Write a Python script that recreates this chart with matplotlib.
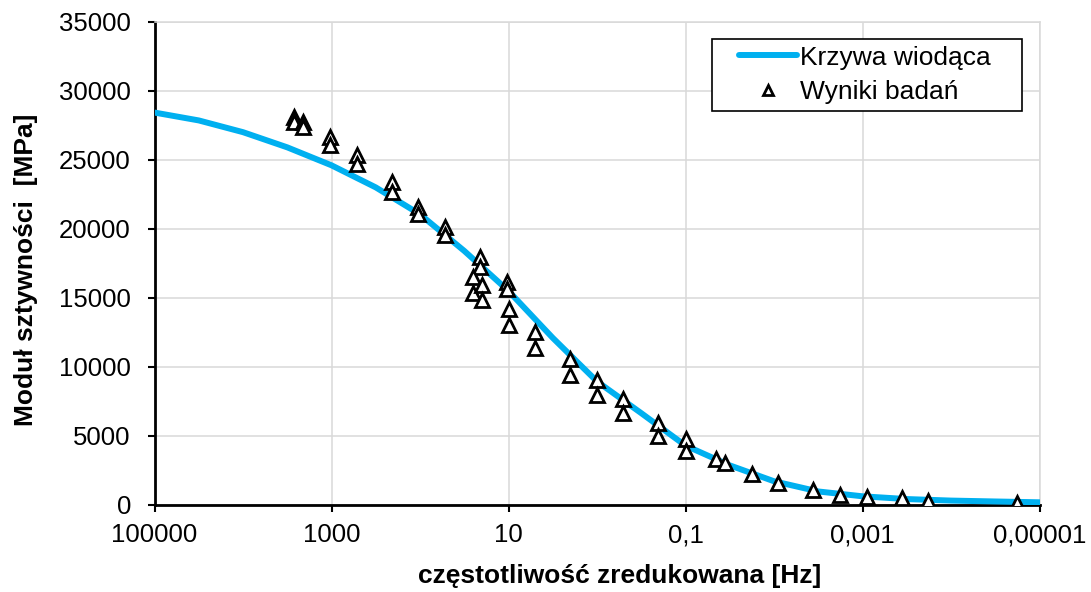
import matplotlib.pyplot as plt
from matplotlib.legend_handler import HandlerLine2D
from matplotlib.ticker import NullLocator

plt.rcParams['font.family'] = ['Liberation Sans', 'DejaVu Sans']

# krzywa wiodąca: częstotliwość [Hz] i moduł [MPa]
curve_freq = [1e5, 31600, 1e4, 3160, 1000, 316, 100, 31.6, 10, 3.16, 1,
              0.316, 0.1, 0.0316, 0.01, 0.00316, 0.001, 0.000316, 1e-4,
              3.16e-5, 1e-5]
curve_modulus = [28420, 27850, 27000, 25900, 24600, 23000, 21050, 18400,
                 15500, 12100, 8950, 6650, 4300, 2870, 1720, 980, 630, 430,
                 320, 255, 196]

# wyniki badań
test_freq = [2630, 2630, 2084, 2084, 1040, 1040, 519, 519, 209, 209,
             104.5, 104.5, 52.2, 52.2, 21.0, 21.0, 25.2, 25.2, 19.9, 19.9,
             10.5, 10.5, 10.0, 10.0, 5.02, 5.02, 2.02, 2.02, 1.0, 1.0,
             0.505, 0.505, 0.202, 0.202, 0.1, 0.1, 0.0456, 0.0358, 0.0179,
             0.00893, 0.0036, 0.00179, 0.000897, 0.00036, 0.000181, 1.81e-5]
test_modulus = [28120, 27715, 27760, 27400, 26670, 26070, 25350, 24700, 23410, 22690,
                21600, 21070, 20110, 19550, 17980, 17260, 16530, 15380, 15930, 14850,
                16170, 15650, 14180, 13000, 12550, 11370, 10560, 9380, 9080, 7970,
                7655, 6640, 5940, 4970, 4780, 3930, 3330, 3020, 2245,
                1615, 1086, 724, 558, 485, 311, 167]

tick_values = [1e5, 1e3, 1e1, 1e-1, 1e-3, 1e-5]
tick_labels = ['100000', '1000', '10', '0,1', '0,001', '0,00001']

fig = plt.figure(figsize=(10.91, 5.92), dpi=100)
ax = fig.add_axes([154.5 / 1091, 1 - 505 / 592, 885 / 1091, 483.3 / 592])

curve, = ax.plot(curve_freq, curve_modulus, color='#00B0F0', lw=4.3,
                 solid_capstyle='round', solid_joinstyle='round',
                 label='Krzywa wiodąca', zorder=3)
points, = ax.plot(test_freq, test_modulus, ls='none', marker='^', ms=9.8,
                  mfc='white', mec='black', mew=2.0, label='Wyniki badań', zorder=4)

ax.set_xscale('log')
ax.set_xlim(1e5, 1e-5)
ax.set_ylim(0, 35000)
ax.set_xticks(tick_values, tick_labels)
ax.xaxis.set_minor_locator(NullLocator())
ax.set_yticks(range(0, 35001, 5000))

ax.set_axisbelow(True)
ax.grid(True, color='#d9d9d9', lw=1.1)
for side in ['left', 'bottom']:
    ax.spines[side].set_color('black')
    ax.spines[side].set_linewidth(2)
for side in ['top', 'right']:
    ax.spines[side].set_color('#d9d9d9')
    ax.spines[side].set_linewidth(1.1)

ax.tick_params(direction='out', length=5, width=1.5, labelsize=18.5, colors='black')
ax.tick_params(axis='y', pad=12)
ax.tick_params(axis='x', pad=8)

ax.set_xlabel('częstotliwość zredukowana [Hz]', fontsize=19, fontweight='bold')
ax.set_ylabel('Moduł sztywności  [MPa]', fontsize=19, fontweight='bold')
ax.xaxis.set_label_coords(0.526, -0.122)
ax.yaxis.set_label_coords(-0.132, 0.486)

handler = HandlerLine2D(xpad=0.77)
leg = ax.legend(handles=[curve, points], loc='upper right',
                bbox_to_anchor=(0.6296, 0.0, 0.3503, 0.964), mode='expand',
                borderaxespad=0, fontsize=19, frameon=True, fancybox=False,
                edgecolor='black', framealpha=1, borderpad=0.25,
                handlelength=3.0, handletextpad=0.1, labelspacing=0.4,
                markerscale=0.72, numpoints=1,
                handler_map={curve: handler, points: handler})
leg.get_frame().set_linewidth(1.2)

fig.savefig('out.png', dpi=100)
